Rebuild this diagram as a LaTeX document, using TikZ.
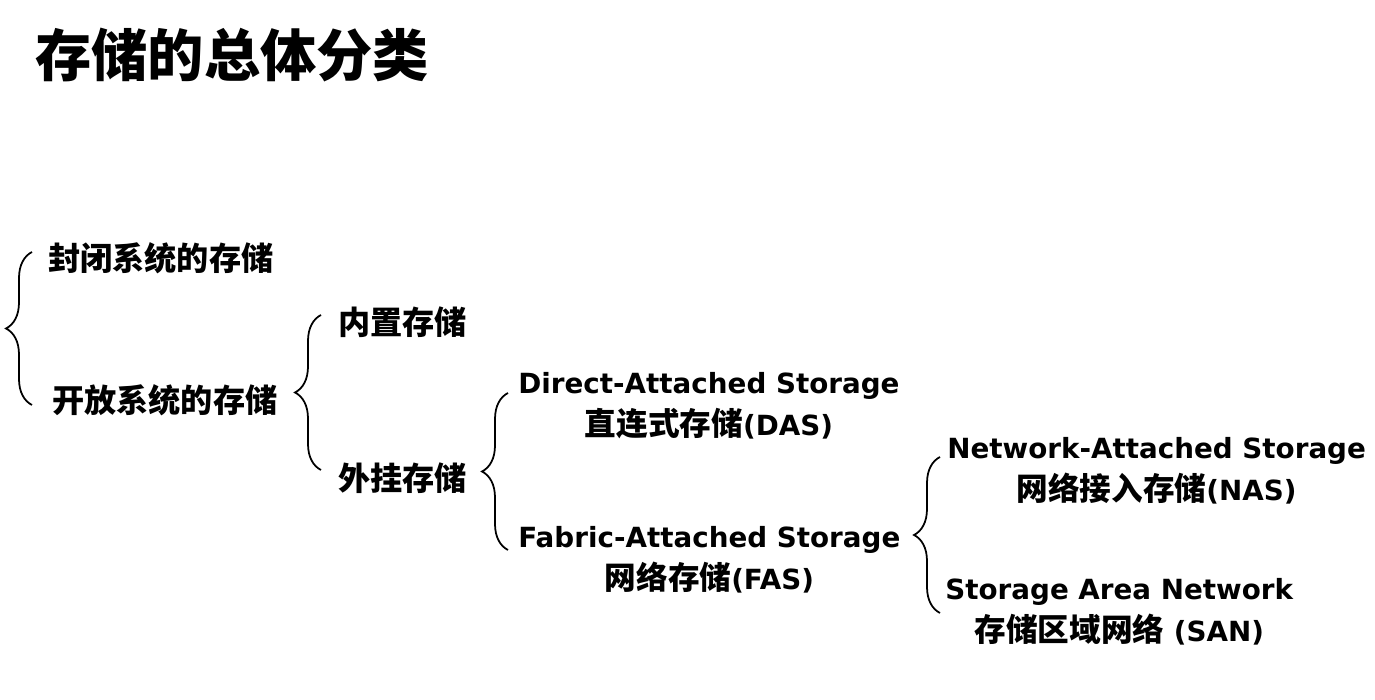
\documentclass[tikz,border=0pt]{standalone}
\usepackage{fontspec}
\setmainfont{DejaVu Sans}
\newfontfamily\cjk{Noto Sans CJK SC}
\newcommand{\zh}[1]{{\cjk\fontsize{18}{24}\selectfont #1}}
\usetikzlibrary{positioning,decorations.pathreplacing}

\begin{document}
\begin{tikzpicture}[
        item/.style={anchor=west, inner sep=0pt, font=\cjk\bfseries\fontsize{18.3}{24}\selectfont},
        term/.style={anchor=west, inner sep=0pt, align=center, font=\bfseries\fontsize{15.8}{24}\selectfont},
        curly/.style={draw, line width=1pt, decorate, decoration={brace, amplitude=0.52cm}}
    ]
    \useasboundingbox (0,0) rectangle (27.5,14);

    \node[anchor=west, inner sep=0pt, font=\cjk\bfseries\fontsize{32}{36}\selectfont] (title) at (0.7,12.9) {存储的总体分类};

    % first level
    \node[item] (closed) at (0.96,8.84) {封闭系统的存储};
    \node[item] (open) at (1.04,6.0) {开放系统的存储};
    % second level
    \node[item] (builtin) at (6.76,7.56) {内置存储};
    \node[item] (external) at (6.76,4.44) {外挂存储};
    % third level
    \node[term] (das) at (10.36,5.88) {Direct-Attached Storage\\\zh{直连式存储}(DAS)};
    \node[term] (fas) at (10.36,2.8) {Fabric-Attached Storage\\\zh{网络存储}(FAS)};
    % fourth level
    \node[term] (nas) at (18.94,4.58) {Network-Attached Storage\\\zh{网络接入存储}(NAS)};
    \node[term] (san) at (18.9,1.76) {Storage Area Network\\\zh{存储区域网络} (SAN)};

    \coordinate (b1top) at (0.64,8.96);
    \coordinate (b1bot) at (0.64,5.9);
    \coordinate (b2top) at (6.42,7.7);
    \coordinate (b2bot) at (6.42,4.6);
    \coordinate (b3top) at (10.16,6.14);
    \coordinate (b3bot) at (10.16,3.0);
    \coordinate (b4top) at (18.8,4.86);
    \coordinate (b4bot) at (18.8,1.74);

    \draw[curly] (b1bot) -- (b1top);
    \draw[curly] (b2bot) -- (b2top);
    \draw[curly] (b3bot) -- (b3top);
    \draw[curly] (b4bot) -- (b4top);
\end{tikzpicture}
\end{document}
